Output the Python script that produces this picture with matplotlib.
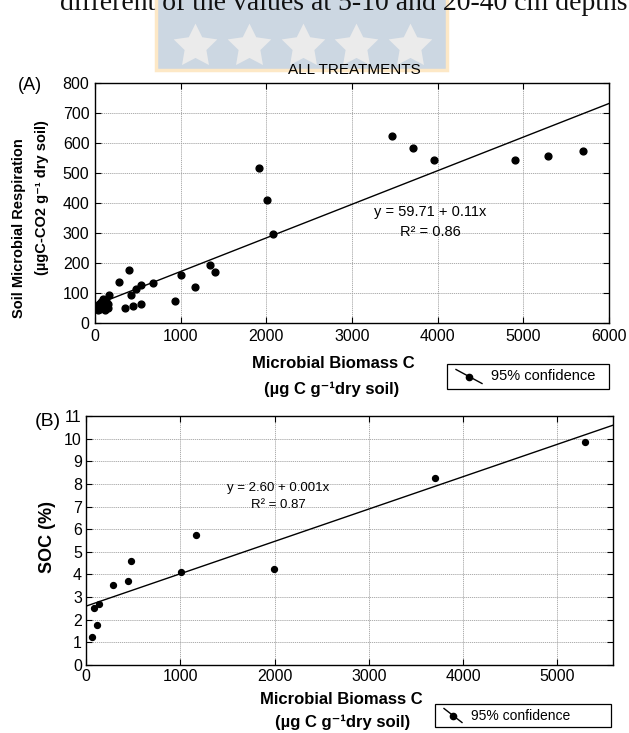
import matplotlib
matplotlib.use("Agg")
import matplotlib.pyplot as plt
import numpy as np
from matplotlib.patches import Rectangle

plt.rcParams['font.family'] = ['Liberation Sans', 'DejaVu Sans']

W, H = 629, 733

# ---- Panel A: microbial respiration vs microbial biomass C ----
mbc_a = [19, 38, 50, 58, 66, 77, 89, 97, 105, 116, 128, 136, 147, 155, 30, 70,
         110, 45, 85, 125, 163, 276, 354, 401, 420, 440, 478, 533, 533, 680,
         937, 1000, 1163, 1342, 1397, 1914, 2003, 2081, 3462, 3711, 3960,
         4901, 5290, 5698]
resp_a = [53, 42, 62, 47, 71, 58, 80, 69, 60, 44, 72, 53, 49, 64, 58, 66,
          52, 50, 55, 62, 95, 137, 49, 176, 95, 58, 113, 128, 65, 133,
          73, 161, 121, 192, 170, 518, 409, 298, 625, 585, 542,
          542, 557, 573]
fit_a = (59.71, 0.112)      # intercept, slope
r2_a = 0.86
fit_a_range = [130, 6000]

# ---- Panel B: SOC vs microbial biomass C ----
mbc_b = [60, 113, 82, 141, 282, 445, 477, 1007, 1170, 1997, 3701, 5292]
soc_b = [1.24, 1.75, 2.52, 2.68, 3.52, 3.71, 4.59, 4.09, 5.76, 4.24, 8.25, 9.85]
fit_b = (2.60, 0.00143)
r2_b = 0.87
fit_b_range = [0, 5600]

xticks_a = [0, 1000, 2000, 3000, 4000, 5000, 6000]
yticks_a = [0, 100, 200, 300, 400, 500, 600, 700, 800]
xticks_b = [0, 1000, 2000, 3000, 4000, 5000]
yticks_b = list(range(0, 12))


def frac_rect(left, top, right, bottom):
    return [left / W, 1 - bottom / H, (right - left) / W, (bottom - top) / H]


fig = plt.figure(figsize=(W / 100, H / 100), dpi=100)

# page layer in pixel coordinates
bg = fig.add_axes([0, 0, 1, 1], zorder=-5)
bg.set_xlim(0, W)
bg.set_ylim(H, 0)
bg.axis('off')

# university watermark
bg.add_patch(Rectangle((156, -5), 291, 75, facecolor='#ccd7e2',
                       edgecolor='#fde8c6', lw=2.5, zorder=1))
for sx in [195, 249, 303, 356, 410]:
    bg.plot(sx, 46, marker=(5, 1, 0), ms=33, color='#ebebeb', mec='none',
            zorder=2)

# running text of the page, mostly above the crop
bg.text(628, 10, "different of the values at 5-10 and 20-40 cm depths",
        family='Liberation Serif', fontsize=20, ha='right', va='baseline',
        color='#111111', zorder=6)


def style_axes(ax, xticks, yticks, xlim, ylim, pad):
    ax.set_xlim(*xlim)
    ax.set_ylim(*ylim)
    ax.set_xticks(xticks)
    ax.set_yticks(yticks)
    ax.grid(True, color='#a0a0a0', lw=0.6, ls=(0, (1.5, 1)))
    ax.set_axisbelow(True)
    ax.tick_params(direction='in', length=4, width=0.8, top=True, right=True,
                   labelsize=11.5, pad=pad)
    for s in ax.spines.values():
        s.set_linewidth(1.0)


# Panel A
axA = fig.add_axes(frac_rect(95, 83, 609, 323))
style_axes(axA, xticks_a, yticks_a, (0, 6000), (0, 800), 4)
axA.scatter(mbc_a, resp_a, s=24, color='black', zorder=3)
xa = np.array(fit_a_range, dtype=float)
axA.plot(xa, fit_a[0] + fit_a[1] * xa, color='black', lw=1.0, zorder=3)
axA.text(430, 212, f"y = {fit_a[0]:.2f} + {fit_a[1]:.2f}x",
         transform=bg.transData, fontsize=10.5, ha='center', va='center')
axA.text(430, 232, f"R² = {r2_a:.2f}", transform=bg.transData,
         fontsize=10.5, ha='center', va='center')

# Panel B
axB = fig.add_axes(frac_rect(86, 416, 613, 665))
style_axes(axB, xticks_b, yticks_b, (0, 5590), (0, 11), 3)
axB.scatter(mbc_b, soc_b, s=18, color='black', zorder=3)
xb = np.array(fit_b_range, dtype=float)
axB.plot(xb, fit_b[0] + fit_b[1] * xb, color='black', lw=1.0, zorder=3)
axB.text(278, 488, f"y = {fit_b[0]:.2f} + {fit_b[1]:.3f}x",
         transform=bg.transData, fontsize=9.5, ha='center', va='center')
axB.text(278, 505, f"R² = {r2_b:.2f}", transform=bg.transData,
         fontsize=9.5, ha='center', va='center')

# titles, panel tags and axis labels
bg.text(354, 70, "ALL TREATMENTS", fontsize=11, ha='center', va='center')
bg.text(30, 86, "(A)", fontsize=13, ha='center', va='center')
bg.text(48, 421, "(B)", fontsize=14, ha='center', va='center')

bg.text(19, 228, "Soil Microbial Respiration", fontsize=10.5,
        fontweight='bold', rotation=90, ha='center', va='center')
bg.text(42, 198, "(µgC-CO2 g⁻¹ dry soil)", fontsize=10.5,
        fontweight='bold', rotation=90, ha='center', va='center')
bg.text(47, 537, "SOC (%)", fontsize=13, fontweight='bold', rotation=90,
        ha='center', va='center')

bg.text(333, 363, "Microbial Biomass C", fontsize=12, fontweight='bold',
        ha='center', va='center')
bg.text(332, 389, "(µg C g⁻¹dry soil)", fontsize=12, fontweight='bold',
        ha='center', va='center')
bg.text(341, 700, "Microbial Biomass C", fontsize=12, fontweight='bold',
        ha='center', va='center')
bg.text(343, 722, "(µg C g⁻¹dry soil)", fontsize=12, fontweight='bold',
        ha='center', va='center')


def legend_box(x0, y0, x1, y1, text_x, fs):
    bg.add_patch(Rectangle((x0, y0), x1 - x0, y1 - y0, facecolor='white',
                           edgecolor='black', lw=0.9, zorder=3))
    ym = (y0 + y1) / 2
    lx0, lx1 = x0 + 9, text_x - 9
    bg.plot([lx0, lx1], [ym - 7, ym + 7], color='black', lw=1.0, zorder=4)
    bg.plot((lx0 + lx1) / 2, ym, 'o', color='black', ms=4.5, zorder=5)
    bg.text(text_x, ym, "95% confidence", fontsize=fs, ha='left',
            va='center', zorder=5)


legend_box(447, 364, 609, 389, 491, 10.5)
legend_box(435, 704, 611, 727, 471, 10)

fig.savefig("out.png", dpi=100)
